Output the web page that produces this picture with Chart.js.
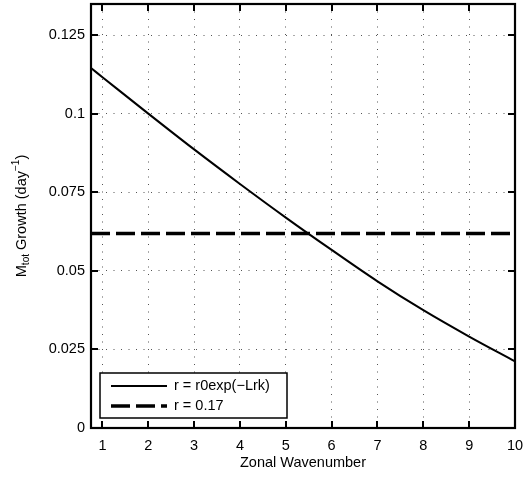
<!DOCTYPE html>
<html>
<head>
<meta charset="utf-8">
<script src="https://cdn.jsdelivr.net/npm/chart.js@4.4.1/dist/chart.umd.min.js"></script>
<style>
  html, body { margin: 0; padding: 0; background: #ffffff; }
  #wrap { width: 523px; height: 478px; }
</style>
</head>
<body>
<div id="wrap"><canvas id="chart" width="523" height="478"></canvas></div>
<script>
// Zonal wavenumber samples and the growth rate of M_tot (day^-1)
const wavenumbers = [0.75, 1, 2, 3, 4, 5, 6, 7, 8, 9, 10];
const growthExpDecay = [0.1146, 0.1117, 0.1001, 0.0887, 0.0777, 0.0670, 0.0567, 0.0467, 0.0375, 0.0291, 0.0212];
// constant-rate case, spanning the whole wavenumber range
const constWavenumbers = [0.75, 10];
const growthConstant = [0.0619, 0.0619];

const seriesLabels = ['r = r0exp(\u2212Lrk)', 'r = 0.17'];
const xTickValues = [1, 2, 3, 4, 5, 6, 7, 8, 9, 10];
const yTickValues = [0, 0.025, 0.05, 0.075, 0.1, 0.125];
const yTickLabels = ['0', '0.025', '0.05', '0.075', '0.1', '0.125'];

const FONT = '"Liberation Sans", Arial, Helvetica, sans-serif';
const FONT_SIZE = 14.5;
const GRID_DASH = [1, 6.5];

// MATLAB-style frame with inward ticks, boxed legend and y-axis label with sub/superscripts
const framePlugin = {
  id: 'matlabFrame',
  afterDraw(chart) {
    const { ctx, chartArea: a, scales: { x, y } } = chart;
    ctx.save();
    ctx.strokeStyle = '#000';
    ctx.lineWidth = 2;
    ctx.setLineDash([]);
    // inward tick marks on all four sides
    const tl = 7;
    ctx.beginPath();
    xTickValues.forEach(v => {
      const px = Math.round(x.getPixelForValue(v));
      ctx.moveTo(px, a.bottom); ctx.lineTo(px, a.bottom - tl);
      ctx.moveTo(px, a.top); ctx.lineTo(px, a.top + tl);
    });
    yTickValues.forEach(v => {
      const py = Math.round(y.getPixelForValue(v));
      ctx.moveTo(a.left, py); ctx.lineTo(a.left + tl, py);
      ctx.moveTo(a.right, py); ctx.lineTo(a.right - tl, py);
    });
    ctx.stroke();
    ctx.lineWidth = 2.2;
    ctx.strokeRect(a.left, a.top, a.right - a.left, a.bottom - a.top);

    // legend box
    const lx = a.left + 9, ly = a.bottom - 55, lw = 187, lh = 45;
    ctx.fillStyle = '#fff';
    ctx.fillRect(lx, ly, lw, lh);
    ctx.lineWidth = 1.5;
    ctx.strokeRect(lx, ly, lw, lh);
    const ds = chart.data.datasets;
    ctx.font = FONT_SIZE + 'px ' + FONT;
    ctx.fillStyle = '#000';
    ctx.textBaseline = 'middle';
    ctx.textAlign = 'left';
    ds.forEach((d, i) => {
      const ry = ly + 13 + i * 20;
      ctx.beginPath();
      ctx.lineWidth = d.borderWidth;
      ctx.setLineDash(d.borderDash || []);
      ctx.moveTo(lx + 11, ry);
      ctx.lineTo(lx + 67, ry);
      ctx.stroke();
      ctx.setLineDash([]);
      ctx.fillText(d.label, lx + 74, ry);
    });

    // y-axis label: M_tot Growth (day^-1)
    const cy = (a.top + a.bottom) / 2;
    ctx.translate(22, cy);
    ctx.rotate(-Math.PI / 2);
    const big = FONT_SIZE + 'px ' + FONT;
    const small = '10px ' + FONT;
    const parts = [
      { t: 'M', f: big, dy: 0 },
      { t: 'tot', f: small, dy: 4 },
      { t: ' Growth (day', f: big, dy: 0 },
      { t: '\u22121', f: small, dy: -6 },
      { t: ')', f: big, dy: 0 }
    ];
    let total = 0;
    parts.forEach(p => { ctx.font = p.f; p.w = ctx.measureText(p.t).width; total += p.w; });
    let cx = -total / 2;
    ctx.textBaseline = 'middle';
    parts.forEach(p => {
      ctx.font = p.f;
      ctx.fillText(p.t, cx, p.dy);
      cx += p.w;
    });
    ctx.restore();
  }
};

new Chart(document.getElementById('chart'), {
  type: 'line',
  data: {
    datasets: [
      {
        label: seriesLabels[0],
        data: wavenumbers.map((k, i) => ({ x: k, y: growthExpDecay[i] })),
        borderColor: '#000',
        borderWidth: 2,
        pointRadius: 0,
        fill: false,
        cubicInterpolationMode: 'monotone'
      },
      {
        label: seriesLabels[1],
        data: constWavenumbers.map((k, i) => ({ x: k, y: growthConstant[i] })),
        borderColor: '#000',
        borderWidth: 3.5,
        borderDash: [19, 6],
        pointRadius: 0,
        fill: false
      }
    ]
  },
  options: {
    responsive: false,
    animation: false,
    devicePixelRatio: 1,
    layout: { padding: { left: 0, right: 8, top: 4, bottom: 0 } },
    plugins: { legend: { display: false }, tooltip: { enabled: false } },
    scales: {
      x: {
        type: 'linear',
        min: 0.75,
        max: 10,
        afterBuildTicks: s => { s.ticks = xTickValues.map(v => ({ value: v })); },
        afterFit: s => { s.height = 50; s.paddingLeft = 0; s.paddingRight = 0; },
        border: { display: false, dash: GRID_DASH },
        grid: { color: '#555', lineWidth: 1, drawTicks: false },
        ticks: { color: '#000', padding: 9, maxRotation: 0, font: { family: FONT, size: FONT_SIZE }, callback: v => String(v) },
        title: { display: true, text: 'Zonal Wavenumber', color: '#000', font: { family: FONT, size: FONT_SIZE }, padding: { top: 0, bottom: 6 } }
      },
      y: {
        type: 'linear',
        min: 0,
        max: 0.135,
        afterBuildTicks: s => { s.ticks = yTickValues.map(v => ({ value: v })); },
        afterFit: s => { s.width = 91; s.paddingTop = 0; s.paddingBottom = 0; },
        border: { display: false, dash: GRID_DASH },
        grid: { color: '#555', lineWidth: 1, drawTicks: false },
        ticks: {
          color: '#000', padding: 6, font: { family: FONT, size: FONT_SIZE },
          callback: (v) => { const i = yTickValues.indexOf(v); return i >= 0 ? yTickLabels[i] : ''; }
        }
      }
    }
  },
  plugins: [framePlugin]
});
</script>
</body>
</html>
